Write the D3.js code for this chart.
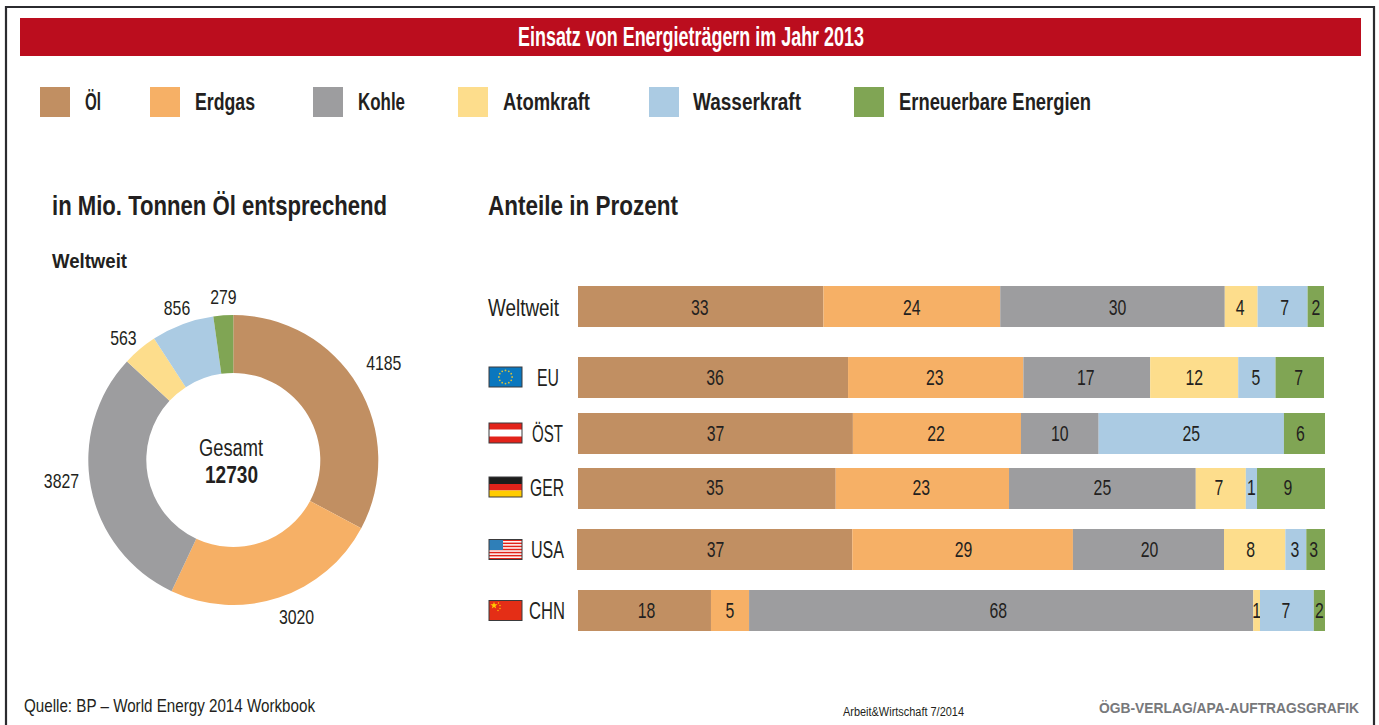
<!DOCTYPE html>
<html><head><meta charset="utf-8">
<script src="https://cdn.jsdelivr.net/npm/d3@7/dist/d3.min.js"></script>
<style>html,body{margin:0;padding:0;background:#fff;overflow:hidden}svg{display:block}text{font-family:"Liberation Sans Narrow","Liberation Sans",sans-serif;fill:#231f20}</style>
</head><body><svg id="c" width="1379" height="725"></svg>
<script>
// ---- data ----
const title = "Einsatz von Energieträgern im Jahr 2013";
const energies = ["Öl","Erdgas","Kohle","Atomkraft","Wasserkraft","Erneuerbare Energien"];
const colors = ["#c18f62","#f6b066","#9d9d9f","#fddd8c","#abcbe3","#80a554"];
const worldTonnes = [4185,3020,3827,563,856,279];
const worldDrawnShares = [32.8,24.2,29.9,3.9,7.0,2.2];
const worldTotal = "12730";
const regions = ["Weltweit","EU","ÖST","GER","USA","CHN"];
// drawn shares (as measured in the picture)
const weltweitShares = [32.9,23.7,30.1,4.4,6.7,2.2];
const euShares  = [36.2,23.5,17.0,11.8,5.0,6.5];
const oestShares= [36.8,22.5,10.4,0,24.8,5.5];
const gerShares = [34.5,23.2,25.0,6.7,1.5,9.1];
const usaShares = [36.8,29.5,20.2,8.2,2.8,2.5];
const chnShares = [17.8,5.1,67.5,0.9,7.2,1.5];
// printed labels
const weltweitLabels = ["33","24","30","4","7","2"];
const euLabels  = ["36","23","17","12","5","7"];
const oestLabels= ["37","22","10","","25","6"];
const gerLabels = ["35","23","25","7","1","9"];
const usaLabels = ["37","29","20","8","3","3"];
const chnLabels = ["18","5","68","1","7","2"];
const rowShares = [weltweitShares,euShares,oestShares,gerShares,usaShares,chnShares];
const rowLabels = [weltweitLabels,euLabels,oestLabels,gerLabels,usaLabels,chnLabels];

// ---- layout ----
const svg = d3.select("#c");
function txt(s,x,y,w,size,o={}){
  const t = svg.append("text").attr("x",x).attr("y",y).attr("font-size",size)
    .attr("font-weight",o.bold?700:400).attr("text-anchor",o.anchor||"start").text(s);
  if(w){t.attr("textLength",w).attr("lengthAdjust","spacingAndGlyphs");}
  if(o.fill)t.style("fill",o.fill);
  return t;
}
// frame
svg.append("path").attr("d","M6,725V7H1374V725").attr("fill","none").attr("stroke","#2b2b2f").attr("stroke-width",2.2);
// title band
svg.append("rect").attr("x",20).attr("y",18).attr("width",1341).attr("height",38).attr("fill","#bb0d1e");
txt(title,518,46,346,27,{bold:true,fill:"#fff"});
// legend
const legendX = d3.scaleOrdinal().domain(energies).range([40,150,313,458,649,854]);
const legendTextX=[85,195,358,503,693,899], legendTextW=[16,60,47,87,108,192];
energies.forEach((e,i)=>{
  svg.append("rect").attr("x",legendX(e)).attr("y",87).attr("width",30).attr("height",30).attr("fill",colors[i]);
  txt(e,legendTextX[i],110,legendTextW[i],23,{bold:true});
});
// headings
txt("in Mio. Tonnen Öl entsprechend",52,215,335,28,{bold:true});
txt("Anteile in Prozent",488,215,190,28,{bold:true});
txt("Weltweit",52,268,75,21,{bold:true});
// donut
const cx=233.3, cy=460;
const pie=d3.pie().sort(null)(worldDrawnShares);
const arc=d3.arc().innerRadius(87).outerRadius(145);
const labelArc=d3.arc().innerRadius(172).outerRadius(172);
const nudge=[[3,-9],[9,-6],[-3,-12],[1,9],[4,9],[2,9]];
const gd=svg.append("g").attr("transform",`translate(${cx},${cy})`);
gd.selectAll("path").data(pie).join("path").attr("d",arc).attr("fill",(d,i)=>colors[i]);
pie.forEach((d,i)=>{
  const [x,y]=labelArc.centroid(d);
  const s=String(worldTonnes[i]);
  txt(s,cx+x+nudge[i][0],cy+y+nudge[i][1]+7,s.length*8.8,21,{anchor:"middle"});
});
txt("Gesamt",231,456,64,23,{anchor:"middle"});
txt(worldTotal,231.5,483,53,24,{anchor:"middle",bold:true});
// bars
const rowTop=[286,357,413,468,529,590];
const rowLeft=[578,578,578,578,577,578], rowRight=[1324,1324,1325,1325,1325,1325];
const rowTextX=[488,537,532,530,531,529], rowTextW=[71,22,31,34,33,36];
const rowTextDy=[0,-1,-1,-2,-1,-1];
const labelDx=[[-1,0,5,-1,2,0],[2,-1,-1,0,-1,-1],[0,-1,0,0,0,-4],[8,-1,0,-2,0,-3],[1,1,1,-4,-1,-2],[2,0,-3,0,-1,0]];
const barH=41;
regions.forEach((r,ri)=>{
  const vals=rowShares[ri], x=d3.scaleLinear().domain([0,d3.sum(vals)]).range([rowLeft[ri],rowRight[ri]]);
  let acc=0;
  vals.forEach((v,i)=>{
    const x0=x(acc), x1=x(acc+v); acc+=v;
    if(v<=0)return;
    svg.append("rect").attr("x",x0).attr("y",rowTop[ri]).attr("width",x1-x0).attr("height",barH).attr("fill",colors[i]);
    const s=rowLabels[ri][i];
    if(s) txt(s,(x0+x1)/2+labelDx[ri][i],rowTop[ri]+28.5+rowTextDy[ri],s.length*8.8,22,{anchor:"middle"});
  });
  txt(r,rowTextX[ri],rowTop[ri]+30+rowTextDy[ri],rowTextW[ri],24);
});
// flags
function flag(y,draw){
  const g=svg.append("g").attr("transform",`translate(489,${y})`);
  draw(g);
  g.append("rect").attr("x",0).attr("y",0).attr("width",33).attr("height",20).attr("fill","none").attr("stroke","#3a3a3c").attr("stroke-width",1);
}
const band=(g,y,h,c,w=33,x=0)=>g.append("rect").attr("x",x).attr("y",y).attr("width",w).attr("height",h).attr("fill",c);
flag(367,g=>{band(g,0,20,"#0a77be");
  d3.range(12).forEach(k=>g.append("circle").attr("cx",16.5+6.6*Math.cos(k*Math.PI/6)).attr("cy",10+6.6*Math.sin(k*Math.PI/6)).attr("r",.9).attr("fill","#d9c23a"));});
flag(423,g=>{band(g,0,20,"#e2231a");band(g,6.5,7,"#fff");});
flag(477,g=>{band(g,0,7,"#1d1d1b");band(g,7,6.5,"#e2231a");band(g,13.5,6.5,"#fc0");});
flag(539.5,g=>{band(g,0,20,"#fff");d3.range(0,13,2).forEach(k=>band(g,k*20/13,20/13,"#e2231a"));band(g,0,10.5,"#2f7fb8",14);});
flag(600.5,g=>{band(g,0,20,"#e42e16");
  g.append("path").attr("d",d3.symbol(d3.symbolStar,16)()).attr("transform","translate(5,5)").attr("fill","#fc0");
  [[9.5,2.5],[11,5],[11,8],[9,10]].forEach(p=>g.append("circle").attr("cx",p[0]).attr("cy",p[1]).attr("r",.7).attr("fill","#fc0"));});
// footer
txt("Quelle: BP – World Energy 2014 Workbook",24,712,291,19);
txt("Arbeit&Wirtschaft 7/2014",843,716,121,12);
txt("ÖGB-VERLAG/APA-AUFTRAGSGRAFIK",1099,713,260,14.5,{bold:true,fill:"#77787b"});
</script></body></html>
